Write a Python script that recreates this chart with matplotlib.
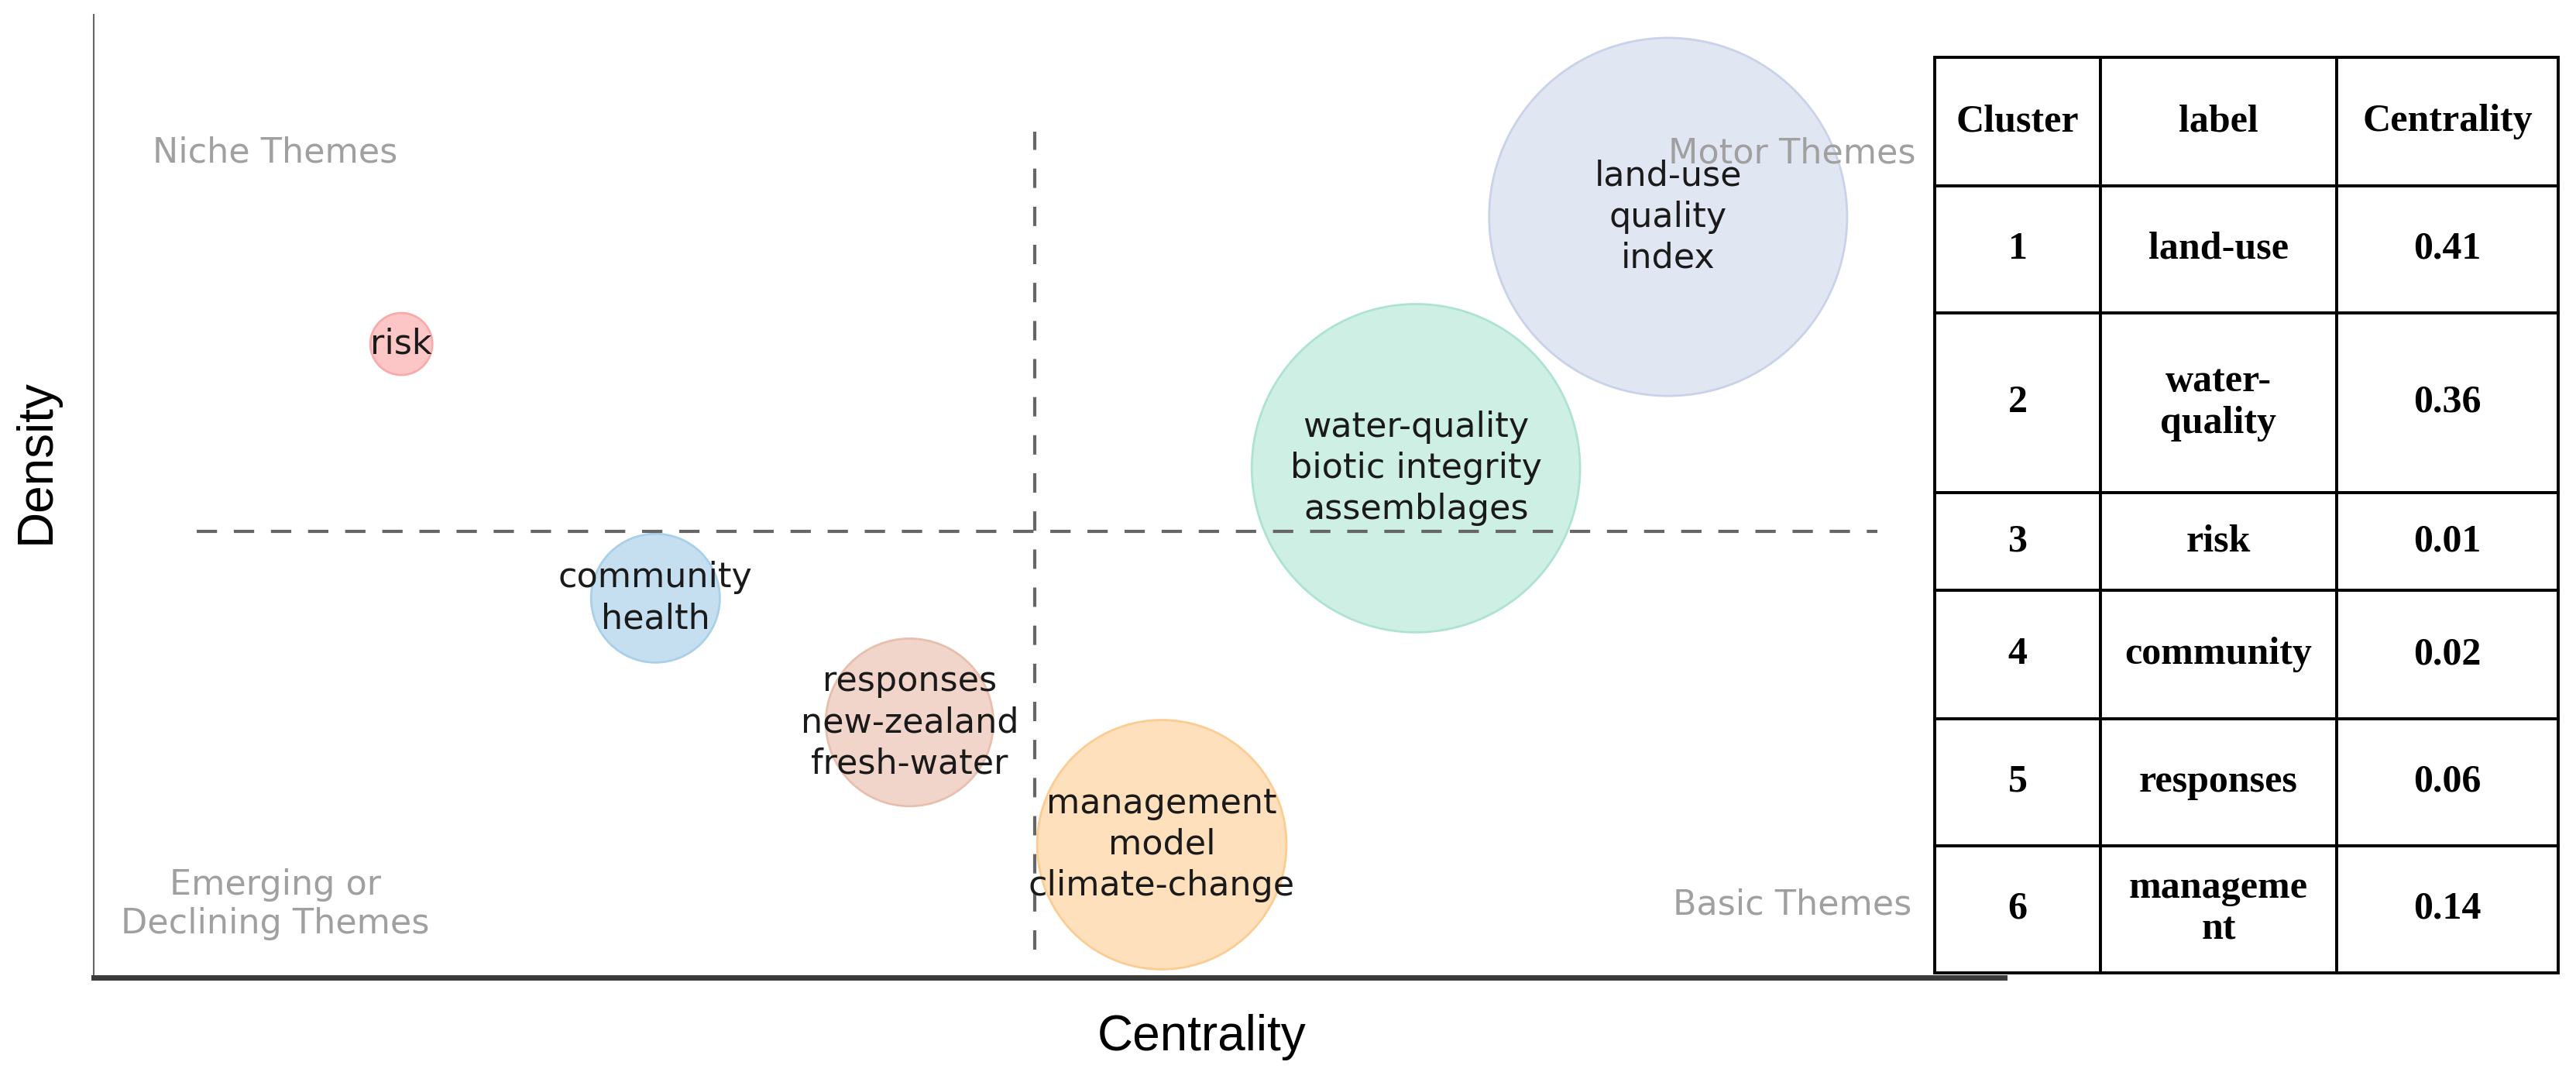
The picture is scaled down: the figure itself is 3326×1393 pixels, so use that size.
import numpy as np
import matplotlib.pyplot as plt

# thematic map clusters (axis units 0-100, no ticks shown)
cluster_labels = ["risk",
                  "community\nhealth",
                  "responses\nnew-zealand\nfresh-water",
                  "management\nmodel\nclimate-change",
                  "water-quality\nbiotic integrity\nassemblages",
                  "land-use\nquality\nindex"]
centrality = [16.1, 29.4, 42.7, 55.9, 69.2, 82.4]
density = [65.8, 39.4, 26.5, 13.8, 52.9, 79.0]
freq = [16, 69, 117, 259, 449, 534]   # bubble size

fill_colors = ["#fdc6c6", "#c6dff0", "#f2d5ca", "#fee0bd", "#ceefe3", "#e1e6f3"]
edge_colors = ["#f9abab", "#a9d0e9", "#e8bfae", "#fdcc92", "#ade3cf", "#cad2ea"]

quadrant_names = ["Niche Themes", "Motor Themes", "Emerging or\nDeclining Themes", "Basic Themes"]
quadrant_x = [9.5, 88.9, 9.5, 88.9]
quadrant_y = [85.7, 85.6, 7.6, 7.6]

mid_centrality = 49.25
mid_density = 46.3

# table on the right
table_header = ["Cluster", "label", "Centrality"]
table_cluster = ["1", "2", "3", "4", "5", "6"]
table_label = ["land-use", "water-\nquality", "risk", "community", "responses", "manageme\nnt"]
table_centrality = ["0.41", "0.36", "0.01", "0.02", "0.06", "0.14"]

W, H = 3326, 1393
fig = plt.figure(figsize=(W / 100, H / 100), dpi=100)

ax = fig.add_axes([121 / W, (H - 1262) / H, 2467 / W, 1243 / H])
ax.set_xlim(0, 100)
ax.set_ylim(0, 100)
ax.set_xticks([])
ax.set_yticks([])
ax.spines["top"].set_visible(False)
ax.spines["right"].set_visible(False)
ax.spines["left"].set_color("#666666")
ax.spines["left"].set_linewidth(1.5)
ax.spines["bottom"].set_color("#3a3a3a")
ax.spines["bottom"].set_linewidth(5)

# bubbles: s in pt^2, radius px = 10*sqrt(freq)
sizes = np.array(freq) * 4 * 100 * 0.72 ** 2
ax.scatter(centrality, density, s=sizes, c=fill_colors, edgecolors=edge_colors,
           linewidths=2, zorder=2, clip_on=False)

# quadrant dividers
ax.plot([5.4, 93.35], [mid_density, mid_density], ls=(0, (6.3, 5.2)), color="#666666",
        lw=3, zorder=3)
ax.plot([mid_centrality, mid_centrality], [2.9, 87.85], ls=(0, (6, 5.8)), color="#666666",
        lw=3, zorder=3)

for name, qx, qy in zip(quadrant_names, quadrant_x, quadrant_y):
    ax.text(qx, qy, name, ha="center", va="center", fontsize=32, color="#a0a0a0",
            family="DejaVu Sans", zorder=4)

for lab, x, y in zip(cluster_labels, centrality, density):
    ax.text(x, y, lab, ha="center", va="center", fontsize=32, color="#1a1a1a",
            family="DejaVu Sans", linespacing=1.3, zorder=5)

fig.text(47 / W, (H - 596) / H, "Density", rotation=90, ha="center", va="center",
         fontsize=46, family="Liberation Sans")
fig.text(1552 / W, (H - 1339) / H, "Centrality", ha="center", va="center",
         fontsize=46, family="Liberation Sans")

# table
tax = fig.add_axes([2498 / W, (H - 1256) / H, 805 / W, 1182 / H])
tax.axis("off")
rows = [list(r) for r in zip(table_cluster, table_label, table_centrality)]
tbl = tax.table(cellText=rows, colLabels=table_header, cellLoc="center", bbox=[0, 0, 1, 1])
tbl.auto_set_font_size(False)
tbl.set_fontsize(36)
col_w = [214, 304, 286]
row_h = [166, 164, 232, 126, 166, 164, 164]
for (r, c), cell in tbl.get_celld().items():
    cell.set_width(col_w[c])
    cell.set_height(row_h[r])
    cell.set_linewidth(2.8)
    cell.set_edgecolor("black")
    cell.get_text().set_fontfamily("Liberation Serif")
    cell.get_text().set_fontweight("bold")

fig.savefig("out.png", dpi=100)
